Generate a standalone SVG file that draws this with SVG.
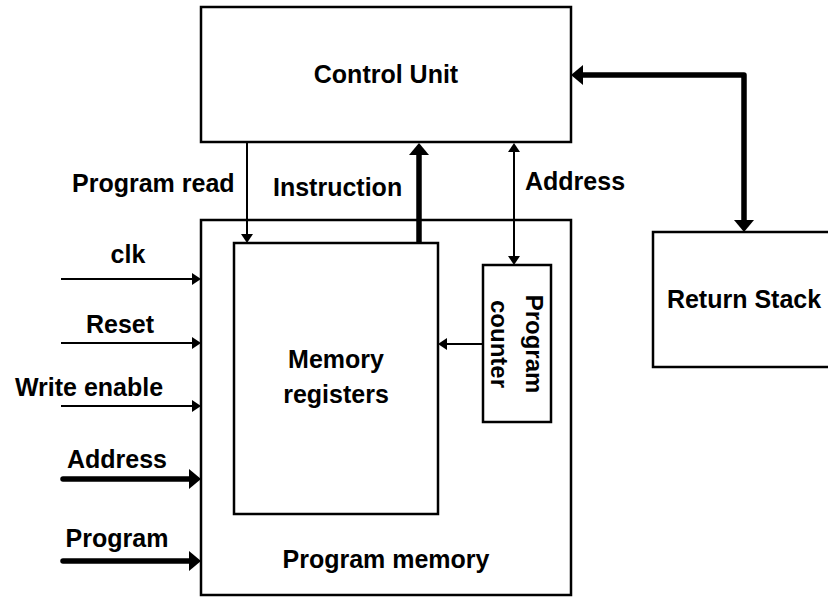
<svg xmlns="http://www.w3.org/2000/svg" width="828" height="598" viewBox="0 0 828 598">
<style>
.box{fill:#fff;stroke:#000;stroke-width:2.5}
.t{font-family:"Liberation Sans",Arial,sans-serif;font-weight:bold;font-size:25px;fill:#000}
.m{text-anchor:middle}
.thin{stroke:#000;stroke-width:2;fill:none}
.thick{stroke:#000;stroke-width:5.5;fill:none}
</style>
<defs>
<marker id="ah" markerUnits="userSpaceOnUse" markerWidth="10" markerHeight="12" refX="0" refY="6" orient="auto-start-reverse" viewBox="0 0 10 12">
<path d="M0,0 L9,6 L0,12 z" fill="#000"/>
</marker>
<marker id="ahb" markerUnits="userSpaceOnUse" markerWidth="13" markerHeight="20" refX="0" refY="10" orient="auto-start-reverse" viewBox="0 0 13 20">
<path d="M0,0 L12,10 L0,20 z" fill="#000"/>
</marker>
</defs>
<rect width="828" height="598" fill="#fff"/>
<g id="control-unit">
<rect class="box" x="201" y="7" width="370" height="135"/>
<text class="t m" x="386" y="83">Control Unit</text>
</g>
<g id="program-memory">
<rect class="box" x="201" y="220" width="370" height="375"/>
<text class="t m" x="386" y="568">Program memory</text>
</g>
<g id="memory-registers">
<rect class="box" x="234" y="243" width="204" height="271"/>
<text class="t m" x="336" y="368">Memory</text>
<text class="t m" x="336" y="403">registers</text>
</g>
<g id="program-counter">
<rect class="box" x="483" y="265" width="68" height="157"/>
<text class="t m" style="font-size:24px" transform="translate(526,344) rotate(90)">Program</text>
<text class="t m" style="font-size:24px" transform="translate(491,344) rotate(90)">counter</text>
</g>
<g id="return-stack">
<rect class="box" x="653" y="232" width="185" height="135"/>
<text class="t m" x="744" y="308">Return Stack</text>
</g>
<g id="connectors">
<line class="thin" x1="247" y1="143" x2="247" y2="234" marker-end="url(#ah)"/>
<line class="thick" x1="419" y1="244" x2="419" y2="155" marker-end="url(#ahb)"/>
<line class="thin" x1="514" y1="152" x2="514" y2="256" marker-start="url(#ah)" marker-end="url(#ah)"/>
<path class="thick" d="M583,75 H744 V220" stroke-linejoin="round" marker-start="url(#ahb)" marker-end="url(#ahb)"/>
<line class="thin" x1="482" y1="344" x2="447" y2="344" marker-end="url(#ah)"/>
<line class="thin" x1="61" y1="279" x2="192" y2="279" marker-end="url(#ah)"/>
<line class="thin" x1="61" y1="343" x2="192" y2="343" marker-end="url(#ah)"/>
<line class="thin" x1="61" y1="406" x2="192" y2="406" marker-end="url(#ah)"/>
<line class="thick" x1="63" y1="479" x2="189" y2="479" stroke-linecap="round" marker-end="url(#ahb)"/>
<line class="thick" x1="63" y1="561" x2="189" y2="561" stroke-linecap="round" marker-end="url(#ahb)"/>
</g>
<g id="labels">
<text class="t" x="72" y="192">Program read</text>
<text class="t" x="273" y="196">Instruction</text>
<text class="t" x="525" y="190">Address</text>
<text class="t m" x="128" y="263">clk</text>
<text class="t m" x="120" y="333">Reset</text>
<text class="t m" x="89" y="396">Write enable</text>
<text class="t m" x="117" y="468">Address</text>
<text class="t m" x="117" y="547">Program</text>
</g>
</svg>
